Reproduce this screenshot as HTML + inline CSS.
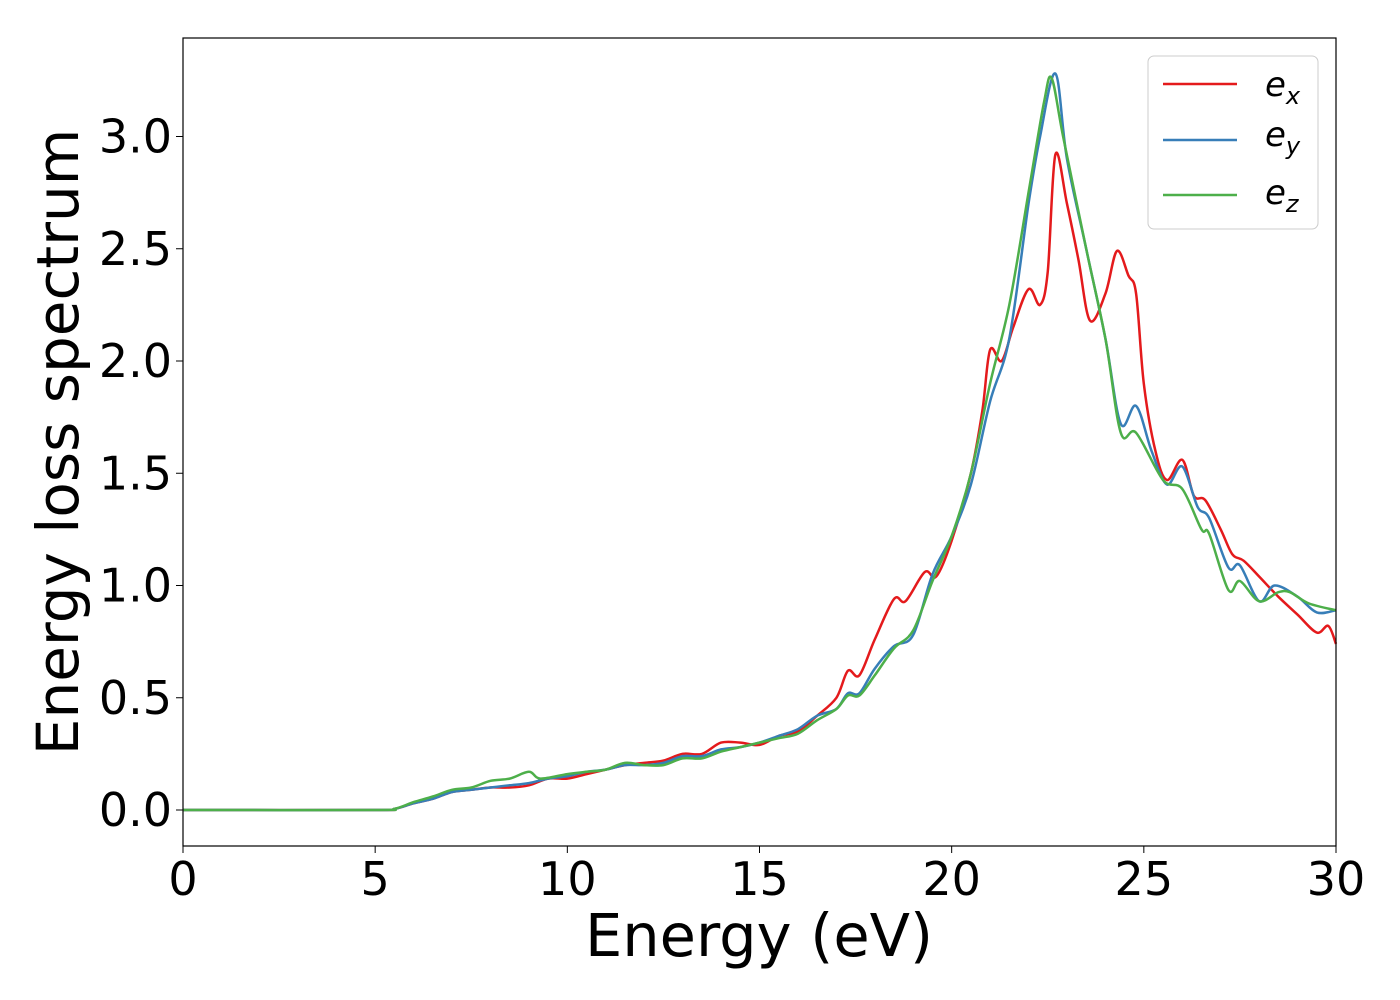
<!DOCTYPE html>
<html><head><meta charset="utf-8"><style>
body{margin:0;background:#fff;}
svg{display:block;font-family:"DejaVu Sans","Liberation Sans",sans-serif;}
</style></head><body>
<svg id="chart" width="1400" height="1000" xmlns="http://www.w3.org/2000/svg">
<rect width="1400" height="1000" fill="#fff"/>
<g id="plot"></g>
<rect x="183" y="38" width="1153" height="808" fill="none" stroke="#000" stroke-width="1.2"/>
<g id="ticks"></g>
<text x="759" y="956" font-size="59" text-anchor="middle">Energy (eV)</text>
<text transform="translate(78,442) rotate(-90)" font-size="58" text-anchor="middle">Energy loss spectrum</text>
<g>
<rect x="1148" y="56" width="170" height="173" rx="6" fill="#fff" stroke="#ccc" stroke-width="1"/>
<line x1="1163" y1="84" x2="1237" y2="84" stroke="#e41a1c" stroke-width="2.5"/>
<text x="1265" y="96" font-size="34" font-style="italic">e<tspan font-size="24" dy="8">x</tspan></text>
<line x1="1163" y1="140" x2="1237" y2="140" stroke="#377eb8" stroke-width="2.5"/>
<text x="1265" y="146" font-size="34" font-style="italic">e<tspan font-size="24" dy="8">y</tspan></text>
<line x1="1163" y1="195" x2="1237" y2="195" stroke="#4daf4a" stroke-width="2.5"/>
<text x="1265" y="204" font-size="34" font-style="italic">e<tspan font-size="24" dy="8">z</tspan></text>
</g>
</svg>
<script>
const xTicks=[0,5,10,15,20,25,30];
const yTicks=["0.0","0.5","1.0","1.5","2.0","2.5","3.0"];
const exE=[0,5,5.5,6,6.5,7,7.5,8,8.5,9,9.5,10,10.5,11,11.5,12,12.5,13,13.5,14,14.5,15,15.5,16,16.5,17,17.3,17.6,18,18.5,18.8,19.3,19.6,20,20.5,20.8,21,21.3,21.6,22,22.3,22.5,22.7,23,23.3,23.6,24,24.3,24.6,24.8,25,25.3,25.6,26,26.3,26.6,27,27.3,27.6,28,28.5,29,29.5,29.8,30];
const exV=[0,0,0.005,0.03,0.05,0.08,0.09,0.1,0.1,0.11,0.14,0.14,0.16,0.18,0.2,0.21,0.22,0.25,0.25,0.3,0.3,0.29,0.33,0.35,0.42,0.5,0.62,0.6,0.76,0.94,0.93,1.06,1.04,1.2,1.5,1.78,2.05,2.0,2.15,2.32,2.25,2.4,2.92,2.7,2.45,2.18,2.3,2.49,2.38,2.3,1.9,1.6,1.47,1.56,1.4,1.38,1.25,1.14,1.11,1.04,0.95,0.87,0.79,0.82,0.74];
const eyE=[0,5,5.5,6,6.5,7,7.5,8,8.5,9,9.5,10,10.5,11,11.5,12,12.5,13,13.5,14,14.5,15,15.5,16,16.5,17,17.3,17.6,18,18.5,19,19.5,20,20.5,21,21.5,22,22.3,22.7,23,23.5,24,24.4,24.8,25.2,25.6,26,26.4,26.7,27.2,27.5,28,28.4,29,29.5,30];
const eyV=[0,0,0.005,0.03,0.05,0.08,0.09,0.1,0.11,0.12,0.14,0.15,0.17,0.18,0.2,0.2,0.21,0.24,0.24,0.27,0.28,0.3,0.33,0.36,0.42,0.45,0.52,0.52,0.63,0.73,0.78,1.05,1.22,1.45,1.82,2.1,2.7,3.0,3.28,2.9,2.5,2.1,1.72,1.8,1.6,1.45,1.53,1.35,1.3,1.08,1.09,0.93,1.0,0.95,0.88,0.89];
const ezE=[0,5,5.5,6,6.5,7,7.5,8,8.5,9,9.3,10,10.5,11,11.5,12,12.5,13,13.5,14,14.5,15,15.5,16,16.5,17,17.3,17.6,18,18.5,19,19.5,20,20.5,21,21.5,22,22.4,22.6,22.9,23.5,24,24.4,24.8,25.5,26,26.5,26.7,27.2,27.5,28,28.5,28.8,29.3,30];
const ezV=[0,0,0.005,0.035,0.06,0.09,0.1,0.13,0.14,0.17,0.14,0.16,0.17,0.18,0.21,0.2,0.2,0.23,0.23,0.26,0.28,0.3,0.32,0.34,0.4,0.45,0.51,0.51,0.6,0.72,0.8,1.02,1.22,1.5,1.9,2.25,2.75,3.15,3.26,3.0,2.5,2.1,1.68,1.68,1.47,1.43,1.25,1.23,0.98,1.02,0.93,0.97,0.97,0.92,0.89];
const X0=183,X1=1336,Y0=810,PPU=224.5;
function sx(e){return X0+(e-0)/30*(X1-X0);}
function sy(v){return Y0-v*PPU;}
const NS="http://www.w3.org/2000/svg";
function path(E,V){
  const p=E.map((e,i)=>[sx(e),sy(V[i])]);
  let d="M"+p[0][0]+","+p[0][1];
  for(let i=0;i<p.length-1;i++){
    const a=p[Math.max(0,i-1)],b=p[i],c=p[i+1],n=p[Math.min(p.length-1,i+2)];
    const c1=[b[0]+(c[0]-a[0])/6,b[1]+(c[1]-a[1])/6],c2=[c[0]-(n[0]-b[0])/6,c[1]-(n[1]-b[1])/6];
    d+=" C"+c1[0].toFixed(1)+","+c1[1].toFixed(1)+" "+c2[0].toFixed(1)+","+c2[1].toFixed(1)+" "+c[0].toFixed(1)+","+c[1].toFixed(1);
  }
  return d;
}
const plot=document.getElementById("plot");
[["ex",exE,exV,"#e41a1c"],["ey",eyE,eyV,"#377eb8"],["ez",ezE,ezV,"#4daf4a"]].forEach(s=>{
  const el=document.createElementNS(NS,"path");
  
  
  el.setAttribute("d",path(s[1],s[2]));
  el.setAttribute("fill","none");el.setAttribute("stroke",s[3]);el.setAttribute("stroke-width","2.5");
  plot.appendChild(el);
});
const tk=document.getElementById("ticks");
xTicks.forEach(t=>{
  const l=document.createElementNS(NS,"line");
  
  
  l.setAttribute("x1",sx(t));l.setAttribute("x2",sx(t));l.setAttribute("y1",846);l.setAttribute("y2",853);l.setAttribute("stroke","#000");
  tk.appendChild(l);
  const tx=document.createElementNS(NS,"text");
  
  
  tx.setAttribute("x",sx(t));tx.setAttribute("y",895);tx.setAttribute("font-size","46");tx.setAttribute("text-anchor","middle");
  tx.textContent=t;tk.appendChild(tx);
});
yTicks.forEach(t=>{
  const v=parseFloat(t);
  const l=document.createElementNS(NS,"line");
  
  
  l.setAttribute("x1",176);l.setAttribute("x2",183);l.setAttribute("y1",sy(v));l.setAttribute("y2",sy(v));l.setAttribute("stroke","#000");
  tk.appendChild(l);
  const tx=document.createElementNS(NS,"text");
  
  
  tx.setAttribute("x",172);tx.setAttribute("y",sy(v)+16);tx.setAttribute("font-size","46");tx.setAttribute("text-anchor","end");
  tx.textContent=t;tk.appendChild(tx);
});
</script>
</body></html>
